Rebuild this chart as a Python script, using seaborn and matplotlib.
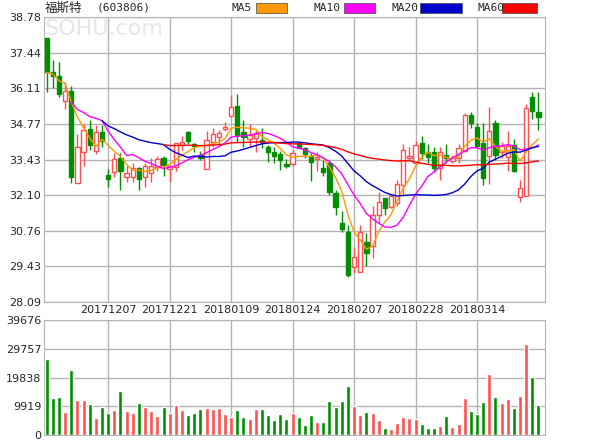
import numpy as np
import pandas as pd
import matplotlib
matplotlib.use("Agg")
import matplotlib.pyplot as plt
import matplotlib.patches as mpatches
import seaborn as sns

opens  = [38.0,36.72,36.57,35.63,36.0,32.54,33.73,34.58,33.77,34.45,
          32.85,32.98,33.5,32.77,32.79,33.1,32.79,32.92,33.17,33.48,
          33.07,33.14,33.98,34.45,34.0,33.6,33.07,34.1,34.29,34.58,
          35.07,35.45,34.45,34.19,34.23,34.15,33.9,33.73,33.64,33.25,
          33.25,34.07,33.88,33.57,33.44,33.12,33.3,32.19,31.04,30.73,
          29.41,29.23,30.35,30.2,31.35,31.98,31.65,31.8,32.48,33.48,
          33.29,34.07,33.73,33.73,33.1,33.6,33.39,33.48,33.77,35.1,
          34.67,34.04,33.57,34.82,33.73,33.54,33.98,32.04,32.07,35.77,35.2]
closes = [36.7,36.58,35.88,36.0,32.79,33.89,34.54,33.98,34.45,34.13,
          32.7,33.45,33.02,32.92,33.1,32.7,33.19,33.19,33.44,33.23,
          33.19,34.04,34.08,34.13,33.95,33.5,34.17,34.38,34.43,34.65,
          35.42,34.35,34.27,34.35,34.42,34.1,33.73,33.58,33.42,33.2,
          33.67,33.88,33.64,33.35,33.54,32.98,32.23,31.64,30.83,29.1,
          29.79,30.73,29.92,31.35,31.85,31.6,32.07,32.5,33.79,33.57,
          33.98,33.69,33.54,33.1,33.73,33.48,33.5,33.86,35.1,34.82,
          33.94,32.75,34.5,33.6,33.94,33.94,33.02,32.36,35.36,35.27,35.04]
highs  = [38.0,37.16,37.1,36.35,36.19,34.4,34.77,34.92,34.73,34.73,
          33.07,33.67,33.67,33.2,33.3,33.17,33.3,33.5,33.55,33.55,
          33.2,34.04,34.3,34.5,34.05,33.75,34.5,34.6,34.55,34.85,
          35.8,35.9,34.9,34.75,34.55,34.6,33.98,33.9,33.75,33.44,
          33.8,34.1,33.9,33.67,33.7,33.4,33.4,32.3,31.5,30.98,
          30.1,30.98,30.66,31.7,32.2,32.0,32.1,32.65,34.0,33.9,
          34.12,34.3,34.0,33.9,33.92,34.0,33.6,34.0,35.17,35.2,
          34.8,34.8,35.4,34.9,34.1,34.5,34.2,32.67,35.5,35.98,35.98]
lows   = [35.98,36.1,35.79,35.33,32.54,32.54,33.2,33.79,33.64,33.9,
          32.42,32.79,32.29,32.6,32.6,32.29,32.4,32.6,33.0,32.8,
          32.6,33.0,33.8,34.0,33.7,33.4,33.07,33.9,33.95,34.5,
          35.1,34.1,33.9,33.9,33.7,33.85,33.35,33.3,33.04,33.1,
          33.2,33.85,33.5,32.64,33.0,32.8,32.1,31.35,30.7,29.04,
          29.17,29.23,29.45,29.75,31.05,31.35,31.6,31.7,32.1,33.4,
          33.3,33.46,33.3,32.95,32.67,33.3,33.3,33.3,33.73,34.6,
          33.9,32.48,32.5,33.4,33.5,33.0,32.95,31.85,32.07,34.94,34.55]
volumes = [26300,12930,13260,7910,22290,11930,11930,10590,5900,9580,
           7580,8580,15270,8250,7580,10920,9580,8250,6580,9580,
           7580,10250,8580,6910,7580,8920,9250,8920,9250,7240,
           6240,8580,6240,5570,8920,8920,6910,5240,7240,5570,
           7580,6240,3570,6910,4570,4570,11590,9580,11590,16940,
           9920,6910,7910,7580,5240,2560,2230,4240,6240,5900,
           5570,3900,2560,2560,3230,6580,2900,3900,12930,8250,
           7240,11260,20950,13260,10920,12260,9250,13600,31320,19950,10250]
date_labels = {10:"20171207",20:"20171221",30:"20180109",40:"20180124",
               50:"20180207",60:"20180228",70:"20180314"}
price_ticks = [28.09,29.43,30.76,32.10,33.43,34.77,36.11,37.44,38.78]
vol_ticks = [0,9919,19838,29757,39676]
ma_specs = [("MA5",5,1,"#ff9900"),("MA10",10,5,"#ff00ff"),
            ("MA20",20,10,"#0000cc"),("MA60",60,20,"#ff0000")]

sns.set_style("white")
plt.rcParams['font.family'] = ['DejaVu Sans']

df = pd.DataFrame({"o":opens,"c":closes,"h":highs,"l":lows,"v":volumes})
df["i"] = np.arange(len(df))
up = df.c >= df.o
RED, GREEN = "#ff5050", "#008f00"

fig = plt.figure(figsize=(6,4.4), dpi=100)
ax = fig.add_axes([44/600, 1-302/440, 501/600, 285/440])
axv = fig.add_axes([44/600, 1-435/440, 501/600, 115/440])

for a in (ax, axv):
    a.set_xlim(-0.44, 81.06)
    a.set_xticks(list(date_labels.keys()))
    a.grid(True, color="#b4b4b4", lw=1)
    a.set_axisbelow(True)
    for s in a.spines.values():
        s.set_color("#b4b4b4")
    a.tick_params(length=0, labelsize=8, pad=2)

cols = np.where(up, RED, GREEN)
ax.vlines(df.i, df.l, df.h, colors=cols, lw=1, zorder=2)
bottoms = np.minimum(df.o, df.c)
heights = np.maximum(np.abs(df.c-df.o), 0.03)
ax.bar(df.i[up], heights[up], bottom=bottoms[up], width=0.7,
       facecolor="white", edgecolor=RED, lw=1, zorder=3)
ax.bar(df.i[~up], heights[~up], bottom=bottoms[~up], width=0.7,
       facecolor=GREEN, edgecolor=GREEN, lw=1, zorder=3)
for name, n, mp, col in ma_specs:
    m = df.c.rolling(n, min_periods=mp).mean()
    sns.lineplot(x=df.i, y=m, ax=ax, color=col, lw=1, zorder=4)
ax.set_ylim(28.09, 38.78)
ax.set_yticks(price_ticks)
ax.set_yticklabels([f"{t:.2f}" for t in price_ticks])
ax.set_xticklabels(list(date_labels.values()))
ax.set_xlabel(""); ax.set_ylabel("")

axv.bar(df.i, df.v, width=0.65, color=cols, zorder=3)
axv.set_ylim(0, 39676)
axv.set_yticks(vol_ticks)
axv.set_yticklabels([str(t) for t in vol_ticks])
axv.set_xticklabels([])

fig.text(0.075, 1-35/440, "SOHU.com", fontsize=16, color="#e6e6e6", zorder=0)
fig.text(45/600, 1-8/440, "福斯特", fontsize=9, va="center",
         family=["Noto Sans CJK SC","DejaVu Sans"])
fig.text(97/600, 1-8/440, "(603806)", fontsize=8, va="center", family="DejaVu Sans Mono")
legpos = [(231,256,287),(314,344,375),(392,420,462),(478,502,537)]
for (name, n, mp, col), (tx, r0, r1) in zip(ma_specs, legpos):
    fig.text(tx/600, 1-8/440, name, fontsize=8, va="center", family="DejaVu Sans Mono")
    fig.patches.append(mpatches.Rectangle((r0/600, 1-13/440), (r1-r0)/600, 10/440,
                       transform=fig.transFigure, facecolor=col, edgecolor="#444444", lw=0.5))

fig.savefig("out.png", dpi=100)
